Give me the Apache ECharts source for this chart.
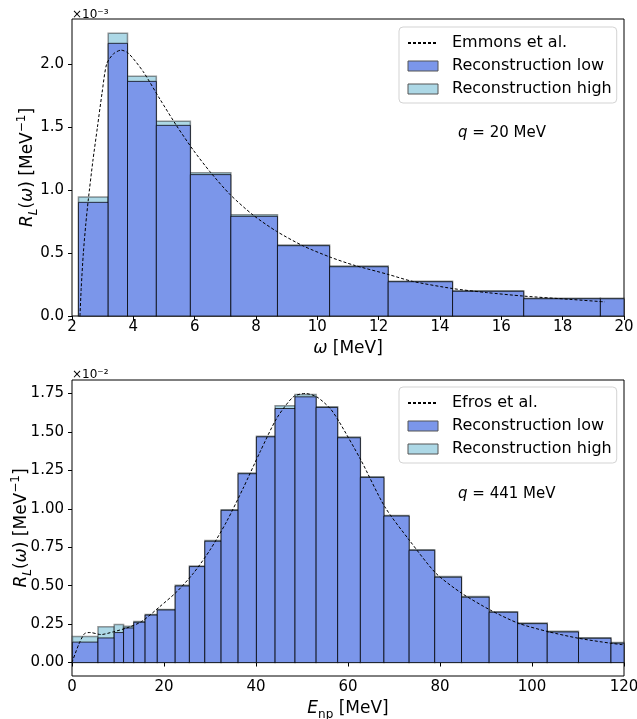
<!doctype html>
<html>
<head>
<meta charset="UTF-8">
<title>R_L(omega)</title>
<script src="https://cdn.jsdelivr.net/npm/echarts@6.0.0/dist/echarts.min.js"></script>
<style>
  html, body { margin: 0; padding: 0; background: #fff; }
  #chart { width: 637px; height: 719px; }
</style>
</head>
<body>
<div id="chart"></div>
<script>
// upper panel, q = 20 MeV, values in units of 1e-3 MeV^-1
var omegaEdges = [2.21, 3.18, 3.81, 4.75, 5.86, 7.18, 8.70, 10.40, 12.31, 14.41, 16.73, 19.23, 21.8];
var omegaLow = [0.902, 2.164, 1.862, 1.513, 1.122, 0.791, 0.558, 0.391, 0.272, 0.196, 0.137, 0.137];
var omegaHigh = [0.944, 2.243, 1.902, 1.545, 1.137, 0.804, 0.563, 0.396, 0.276, 0.200, 0.140, 0.140];
var emmonsX = [2.26, 2.30, 2.37, 2.45, 2.53, 2.68, 2.83, 2.98, 3.13, 3.35, 3.60, 3.84, 4.32, 4.87, 5.41, 5.96, 6.50, 7.15, 7.91, 8.67, 9.54, 10.41, 11.17, 12.31, 13.10, 14.41, 15.52, 16.73, 18.24, 19.38];
var emmonsY = [0, 0.22, 0.50, 0.73, 0.92, 1.23, 1.50, 1.77, 2.00, 2.08, 2.11, 2.085, 1.94, 1.72, 1.51, 1.315, 1.145, 0.965, 0.80, 0.672, 0.556, 0.468, 0.405, 0.33, 0.275, 0.218, 0.186, 0.158, 0.132, 0.112];
var omegaTicks = [0, 0.5, 1.0, 1.5, 2.0];

// lower panel, q = 441 MeV, values in units of 1e-2 MeV^-1
var enpEdges = [0.1, 5.65, 9.18, 11.21, 13.42, 15.89, 18.54, 22.43, 25.52, 28.87, 32.41, 36.11, 40.09, 44.15, 48.48, 53.07, 57.75, 62.69, 67.81, 73.29, 78.85, 84.68, 90.68, 96.87, 103.31, 110.11, 117.17, 124.5];
var enpLow = [0.133, 0.160, 0.195, 0.225, 0.262, 0.309, 0.342, 0.498, 0.624, 0.789, 0.990, 1.228, 1.468, 1.652, 1.728, 1.659, 1.462, 1.204, 0.953, 0.730, 0.555, 0.425, 0.327, 0.253, 0.199, 0.158, 0.126];
var enpHigh = [0.169, 0.232, 0.247, 0.236, 0.267, 0.313, 0.345, 0.502, 0.628, 0.793, 0.994, 1.232, 1.472, 1.670, 1.744, 1.664, 1.466, 1.208, 0.957, 0.734, 0.559, 0.429, 0.331, 0.257, 0.203, 0.162, 0.130];
var efrosX = [0, 1.5, 2.8, 4.0, 6.3, 9.0, 11.9, 15.1, 19.1, 22.8, 26.4, 30.0, 33.6, 37.2, 40.9, 44.5, 48.1, 50.7, 53.2, 56.1, 58.0, 62.8, 68.0, 73.3, 79.1, 84.7, 90.9, 97.0, 103.5, 110.1, 117.0, 120];
var efrosY = [0, 0.12, 0.19, 0.195, 0.182, 0.20, 0.225, 0.266, 0.364, 0.461, 0.581, 0.732, 0.916, 1.133, 1.371, 1.588, 1.728, 1.75, 1.728, 1.653, 1.57, 1.317, 1.013, 0.797, 0.581, 0.451, 0.342, 0.256, 0.201, 0.158, 0.126, 0.115];
var enpTicks = [0, 0.25, 0.5, 0.75, 1.0, 1.25, 1.5, 1.75];

var FONT = 'DejaVu Sans';
var lowFill = '#7b96ea';
var highFill = '#add8e6';

function bins(edges, vals) {
  var out = [];
  for (var i = 0; i < vals.length; i++) {
    out.push([edges[i], edges[i + 1], vals[i]]);
  }
  return out;
}

function pairs(xs, ys) {
  var out = [];
  for (var i = 0; i < xs.length; i++) out.push([xs[i], ys[i]]);
  return out;
}

function histRender(fill, stroke, width) {
  return function (params, api) {
    var a = api.coord([api.value(0), api.value(2)]);
    var b = api.coord([api.value(1), 0]);
    var cs = params.coordSys;
    var rect = echarts.graphic.clipRectByRect(
      { x: a[0], y: a[1], width: b[0] - a[0], height: b[1] - a[1] },
      { x: cs.x, y: cs.y, width: cs.width, height: cs.height + 1 }
    );
    if (!rect) return;
    return {
      type: 'rect',
      shape: rect,
      style: { fill: fill, stroke: stroke, lineWidth: width }
    };
  };
}

var richName = {
  it: { fontStyle: 'italic', fontSize: 17, lineHeight: 24, fontFamily: FONT },
  sub: { fontStyle: 'italic', fontSize: 12, lineHeight: 13, verticalAlign: 'bottom', fontFamily: FONT },
  subr: { fontSize: 12, lineHeight: 13, verticalAlign: 'bottom', fontFamily: FONT },
  sup: { fontSize: 12, lineHeight: 12, verticalAlign: 'top', fontFamily: FONT }
};

function xAxisOpt(idx, min, max, interval, name) {
  return {
    type: 'value', gridIndex: idx, min: min, max: max, interval: interval,
    name: name, nameLocation: 'middle', nameGap: 21, nameMoveOverlap: false,
    nameTextStyle: { fontSize: 17, lineHeight: 24, color: '#000', fontFamily: FONT, rich: richName },
    axisLine: { show: false },
    axisTick: { show: true, length: 4, lineStyle: { color: '#000' } },
    axisLabel: { fontSize: 15, color: '#000', fontFamily: FONT, margin: 4 },
    splitLine: { show: false }
  };
}

function yAxisOpt(idx, min, max, ticks, digits, gap) {
  return {
    type: 'value', gridIndex: idx, min: min, max: max,
    name: '{it|R}{sub|L}({it|ω}) [MeV{sup|−1}]',
    nameLocation: 'middle', nameRotate: 90, nameGap: gap, nameMoveOverlap: false,
    nameTextStyle: { fontSize: 17, lineHeight: 24, color: '#000', fontFamily: FONT, rich: richName },
    axisLine: { show: false },
    axisTick: { show: true, length: 4, lineStyle: { color: '#000' }, customValues: ticks },
    axisLabel: {
      fontSize: 15, color: '#000', fontFamily: FONT, margin: 8, customValues: ticks,
      formatter: function (v) { return v.toFixed(digits); }
    },
    splitLine: { show: false }
  };
}

function legendOpt(top, curveName) {
  return {
    orient: 'vertical', left: 399, top: top,
    padding: [8, 5, 6, 8],
    itemWidth: 30, itemHeight: 10, itemGap: 7,
    selectedMode: false,
    backgroundColor: 'rgba(255,255,255,0.8)',
    borderColor: '#d3d3d3', borderWidth: 1, borderRadius: 4,
    textStyle: { fontSize: 16, lineHeight: 15.5, color: '#000', fontFamily: FONT, padding: [0, 0, 0, 9] },
    data: [
      { name: curveName, itemStyle: { opacity: 0 } },
      { name: 'Reconstruction low', icon: 'rect', itemStyle: { color: lowFill, borderColor: '#555', borderWidth: 1 } },
      { name: 'Reconstruction high', icon: 'rect', itemStyle: { color: highFill, borderColor: '#555', borderWidth: 1 } }
    ]
  };
}

function curveSeries(name, idx, data) {
  return {
    name: name, type: 'line', xAxisIndex: idx, yAxisIndex: idx,
    data: data, symbol: 'none', smooth: 0.25,
    lineStyle: { color: '#000', width: 1, type: [3, 2] },
    itemStyle: { color: '#000' },
    z: 5
  };
}

function histSeries(name, idx, data, fill, stroke, width, z) {
  return {
    name: name, type: 'custom', xAxisIndex: idx, yAxisIndex: idx,
    renderItem: histRender(fill, stroke, width),
    encode: { x: [0, 1], y: 2 },
    itemStyle: { color: fill },
    data: data, z: z
  };
}

var chart = echarts.init(document.getElementById('chart'));

chart.setOption({
  animation: false,
  backgroundColor: '#fff',
  grid: [
    { left: 72, top: 19, width: 552, height: 297, outerBoundsMode: 'none', show: true, borderColor: '#000', borderWidth: 1, backgroundColor: 'transparent' },
    { left: 72, top: 380, width: 552, height: 296, outerBoundsMode: 'none', show: true, borderColor: '#000', borderWidth: 1, backgroundColor: 'transparent' }
  ],
  xAxis: [
    xAxisOpt(0, 2, 20, 2, '{it|ω} [MeV]'),
    xAxisOpt(1, 0, 120, 20, '{it|E}{subr|np} [MeV]')
  ],
  yAxis: [
    yAxisOpt(0, 0, 2.357, omegaTicks, 1, 32),
    yAxisOpt(1, -0.0875, 1.8375, enpTicks, 2, 38)
  ],
  legend: [legendOpt(27, 'Emmons et al.'), legendOpt(387, 'Efros et al.')],
  graphic: [
    { type: 'text', left: 72, top: 9, style: { text: '×10⁻³', font: '12px "DejaVu Sans"', fill: '#000' } },
    { type: 'text', left: 72, top: 369, style: { text: '×10⁻²', font: '12px "DejaVu Sans"', fill: '#000' } },
    {
      type: 'text', left: 458, top: 126,
      style: {
        text: '{it|q} = 20 MeV', font: '15px "DejaVu Sans"', fill: '#000',
        rich: { it: { fontStyle: 'italic', fontSize: 15, fontFamily: FONT } }
      }
    },
    {
      type: 'text', left: 458, top: 487,
      style: {
        text: '{it|q} = 441 MeV', font: '15px "DejaVu Sans"', fill: '#000',
        rich: { it: { fontStyle: 'italic', fontSize: 15, fontFamily: FONT } }
      }
    }
  ],
  series: [
    histSeries('Reconstruction high', 0, bins(omegaEdges, omegaHigh), highFill, 'rgba(0,0,0,0.4)', 1.5, 1),
    histSeries('Reconstruction low', 0, bins(omegaEdges, omegaLow), lowFill, 'rgba(0,0,0,0.75)', 1, 2),
    curveSeries('Emmons et al.', 0, pairs(emmonsX, emmonsY)),
    histSeries('Reconstruction high', 1, bins(enpEdges, enpHigh), highFill, 'rgba(0,0,0,0.4)', 1.5, 1),
    histSeries('Reconstruction low', 1, bins(enpEdges, enpLow), lowFill, 'rgba(0,0,0,0.75)', 1, 2),
    curveSeries('Efros et al.', 1, pairs(efrosX, efrosY))
  ]
});
</script>
</body>
</html>
